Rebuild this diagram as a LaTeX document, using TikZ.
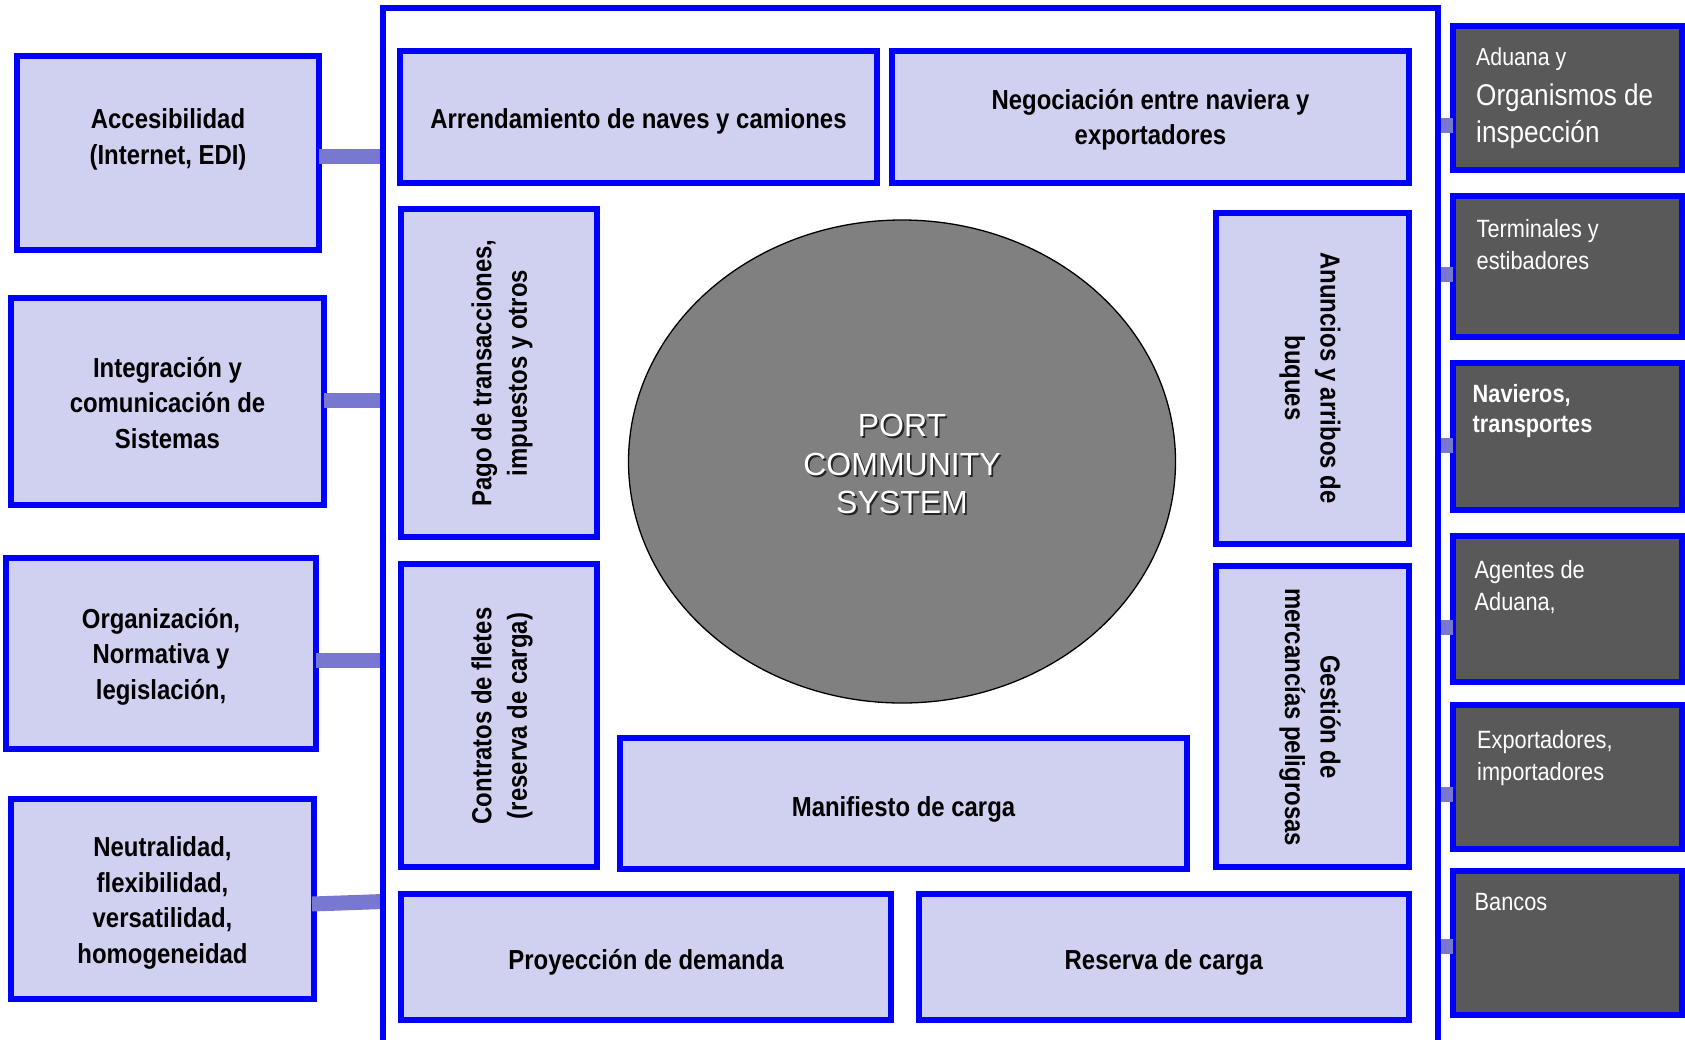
\documentclass[tikz,border=0pt]{standalone}
\usepackage{fontspec}
\setmainfont{Liberation Sans}
\newfontfamily\boxfont[FakeStretch=0.87]{Liberation Sans}
\newfontfamily\sidefont[FakeStretch=0.87]{Liberation Sans}
\newfontfamily\pcsfont{Liberation Sans}
\usetikzlibrary{shapes.geometric}
\definecolor{bblue}{RGB}{0,0,255}
\definecolor{lfill}{RGB}{208,208,240}
\definecolor{cfill}{RGB}{120,120,208}
\definecolor{dgray}{RGB}{89,89,89}
\definecolor{egray}{RGB}{128,128,128}
\newcommand{\mlc}[1]{\begin{tabular}{@{}c@{}}#1\end{tabular}}
\newcommand{\mlt}[1]{\begin{tabular}[t]{@{}l@{}}#1\end{tabular}}
\begin{document}
\begin{tikzpicture}[x=1pt,y=-1pt,
  lbox/.style={draw=bblue, line width=6pt, fill=lfill, inner sep=0pt, outer sep=0pt},
  rbox/.style={draw=bblue, line width=6pt, fill=dgray, inner sep=0pt, outer sep=0pt},
  btext/.style={inner sep=0pt, font=\boxfont\bfseries\fontsize{27.5}{35.5}\selectfont, text=black},
  stext/.style={inner sep=0pt, anchor=base west, font=\sidefont\fontsize{25}{32}\selectfont, text=white},
  conn/.style={draw=cfill, line width=15pt},
  frameline/.style={draw=bblue, line width=6pt},
  pcs/.style={inner sep=0pt, font=\pcsfont\fontsize{32}{38.5}\selectfont},
]
\useasboundingbox[fill=white] (0,0) rectangle (1685,1039);

% connector end points on the frame
\coordinate (c1) at (383,156.5);
\coordinate (c2) at (383,400.5);
\coordinate (c3) at (383,660.5);
\coordinate (c4a) at (312,904);
\coordinate (c4b) at (383,901.5);
\coordinate (r1a) at (1438,125.5);
\coordinate (r2a) at (1438,274.5);
\coordinate (r3a) at (1438,445.5);
\coordinate (r4a) at (1438,627.5);
\coordinate (r5a) at (1438,794.5);
\coordinate (r6a) at (1438,946.5);

% left boxes
\node[lbox, minimum width=302, minimum height=194] (L1) at (168,153) {};
\node[lbox, minimum width=313, minimum height=207] (L2) at (167.5,401.5) {};
\node[lbox, minimum width=310, minimum height=191] (L3) at (161,653.5) {};
\node[lbox, minimum width=303, minimum height=200] (L4) at (162.5,899) {};

% right boxes
\node[rbox, minimum width=229, minimum height=144] (R1) at (1567.5,98) {};
\node[rbox, minimum width=229, minimum height=141] (R2) at (1567.5,266.5) {};
\node[rbox, minimum width=229, minimum height=147] (R3) at (1567.5,436.5) {};
\node[rbox, minimum width=229, minimum height=146] (R4) at (1567.5,609) {};
\node[rbox, minimum width=229, minimum height=144] (R5) at (1567.5,777) {};
\node[rbox, minimum width=229, minimum height=144] (R6) at (1567.5,943) {};

% connectors
\draw[conn] (L1.east |- c1) -- (c1);
\draw[conn] (L2.east |- c2) -- (c2);
\draw[conn] (L3.east |- c3) -- (c3);
\draw[conn] (c4a) -- (c4b);
\draw[conn] (r1a) -- (r1a -| R1.west);
\draw[conn] (r2a) -- (r2a -| R2.west);
\draw[conn] (r3a) -- (r3a -| R3.west);
\draw[conn] (r4a) -- (r4a -| R4.west);
\draw[conn] (r5a) -- (r5a -| R5.west);
\draw[conn] (r6a) -- (r6a -| R6.west);

% frame
\draw[frameline] (383,1042) -- (383,8) -- (1438,8) -- (1438,1042);

% inner boxes
\node[lbox, minimum width=477, minimum height=132] (Arr) at (638.5,117) {};
\node[lbox, minimum width=517, minimum height=132] (Neg) at (1150.5,117) {};
\node[lbox, minimum width=196, minimum height=328] (Pago) at (499,373) {};
\node[lbox, minimum width=196, minimum height=303] (Contr) at (499,715.5) {};
\node[lbox, minimum width=193, minimum height=331.5] (Anun) at (1312.5,378.25) {};
\node[lbox, minimum width=193, minimum height=301] (Gest) at (1312.5,716.5) {};
\node[lbox, minimum width=567, minimum height=131] (Manif) at (903.5,803.5) {};
\node[lbox, minimum width=490, minimum height=126] (Proy) at (646,957) {};
\node[lbox, minimum width=490.5, minimum height=126] (Res) at (1163.75,957) {};

% ellipse
\node[ellipse, draw=black, line width=1.3pt, fill=egray, minimum width=547, minimum height=483, inner sep=0pt] (PCS) at (902,461.5) {};
\node[pcs, text=black!85] (PCSs) at (903.8,469.3) {\mlc{PORT\\COMMUNITY\\SYSTEM}};
\node[pcs, text=white] (PCSt) at (902,467.5) {\mlc{PORT\\COMMUNITY\\SYSTEM}};

% left texts
\node[btext] (L1t) at (168,139.5) {\mlc{Accesibilidad\\(Internet, EDI)}};
\node[btext] (L2t) at (167.5,405.4) {\mlc{Integración y\\comunicación de\\Sistemas}};
\node[btext] (L3t) at (161,656.4) {\mlc{Organización,\\Normativa y\\legislación,}};
\node[btext] (L4t) at (162.5,903) {\mlc{Neutralidad,\\flexibilidad,\\versatilidad,\\homogeneidad}};

% inner texts
\node[btext] (Arrt) at (638.5,121) {\mlc{Arrendamiento de naves y camiones}};
\node[btext] (Negt) at (1150.5,120) {\mlc{Negociación entre naviera y\\exportadores}};
\node[btext, rotate=90] (Pagot) at (502,373) {\mlc{Pago de transacciones,\\impuestos y otros}};
\node[btext, rotate=90] (Contrt) at (502,716) {\mlc{Contratos de fletes\\(reserva de carga)}};
\node[btext, rotate=-90] (Anunt) at (1310,378) {\mlc{Anuncios y arribos de\\buques}};
\node[btext, rotate=-90] (Gestt) at (1310,717) {\mlc{Gestión de\\mercancías peligrosas}};
\node[btext] (Manift) at (903.5,809) {\mlc{Manifiesto de carga}};
\node[btext] (Proyt) at (646,962) {\mlc{Proyección de demanda}};
\node[btext] (Rest) at (1163.75,962) {\mlc{Reserva de carga}};

% right texts
\node[stext] (R1t) at (1476,65) {\mlt{\fontsize{24.5}{32}\selectfont Aduana y\\[8pt]\fontsize{30}{35}\selectfont Organismos de\\[5pt]\fontsize{30}{35}\selectfont inspección}};
\node[stext] (R2t) at (1476.5,237) {\mlt{Terminales y\\estibadores}};
\node[stext, font=\sidefont\bfseries\fontsize{25}{32}\selectfont] (R3t) at (1472.5,402) {\mlt{Navieros,\\[-2pt]transportes}};
\node[stext] (R4t) at (1474.5,578) {\mlt{Agentes de\\Aduana,}};
\node[stext] (R5t) at (1477,748) {\mlt{Exportadores,\\importadores}};
\node[stext] (R6t) at (1474.5,910) {\mlt{Bancos}};
\end{tikzpicture}
\end{document}
